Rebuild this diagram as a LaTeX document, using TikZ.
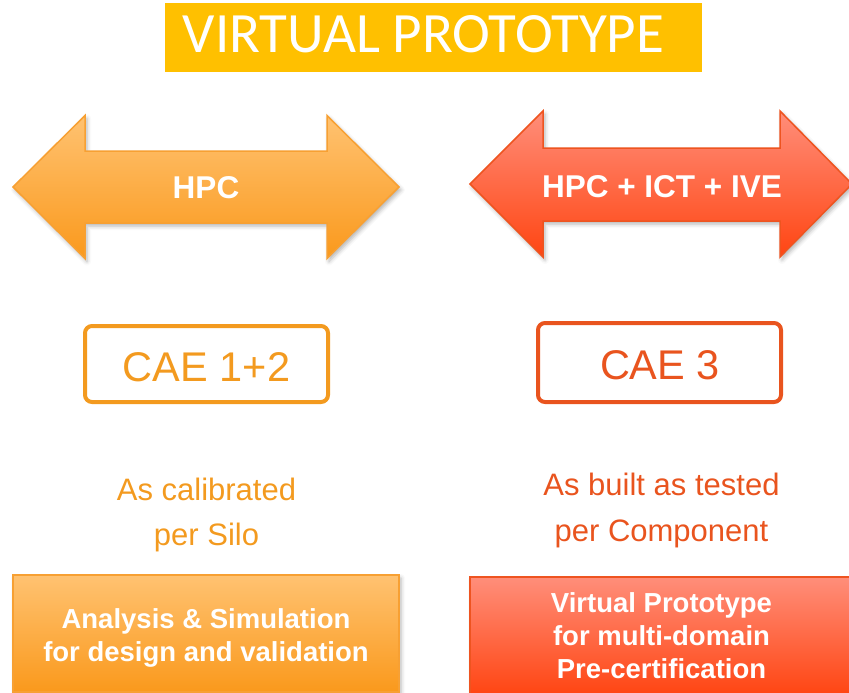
\documentclass[tikz,border=0pt]{standalone}
\usepackage{fontspec}
\setmainfont{Liberation Sans}
\newfontfamily\titlefont{Carlito}
\usetikzlibrary{shadows.blur}
\definecolor{gold}{HTML}{FFC000}
\definecolor{orA}{HTML}{FFC271}
\definecolor{orB}{HTML}{FA991C}
\definecolor{orLine}{HTML}{F7A033}
\definecolor{orText}{HTML}{F39A1F}
\definecolor{rdA}{HTML}{FF8E7A}
\definecolor{rdB}{HTML}{FF4512}
\definecolor{rdLine}{HTML}{EE5420}
\definecolor{rdText}{HTML}{E9541E}
\begin{document}
\begin{tikzpicture}[x=1pt,y=-1pt,
  softshadow/.style={blur shadow={shadow xshift=2pt,shadow yshift=-3pt,shadow blur radius=4pt,shadow opacity=30}},
  orshape/.style={top color=orA,bottom color=orB,draw=orLine,line width=1.5pt,line join=miter,softshadow},
  rdshape/.style={top color=rdA,bottom color=rdB,draw=rdLine,line width=1.5pt,line join=miter,softshadow},
  whitebold/.style={text=white,font=\bfseries\fontsize{31.5}{38}\selectfont,inner sep=0pt},
  caebox/.style={draw,line width=4pt,rounded corners=7pt,fill=white,inner sep=0pt,
     font=\fontsize{41.5}{50}\selectfont},
  midtext/.style={align=center,inner sep=0pt,font=\fontsize{31}{45.5}\selectfont},
  boxtext/.style={align=center,inner sep=0pt,text=white,font=\bfseries\fontsize{27.5}{33}\selectfont}]
\useasboundingbox (0,0) rectangle (849,693);

% title
\node[fill=gold,minimum width=537pt,minimum height=69pt,inner sep=0pt] (titlebox) at (433.5,37.5) {};
\node[text=white,inner sep=0pt,font=\titlefont\fontsize{57}{60}\selectfont] (title) at (423.5,34.5) {VIRTUAL PROTOTYPE};

% left double arrow
\path[orshape] (13,187) -- (85,115.5) -- (85,151) -- (327,151) -- (327,115.5) -- (399,187)
  -- (327,258.5) -- (327,223) -- (85,223) -- (85,258.5) -- cycle;
\node[whitebold] (hpc) at (206,188) {HPC};

% right double arrow
\path[rdshape] (470,184) -- (543,111) -- (543,148) -- (780,148) -- (780,111) -- (852,184)
  -- (780,257) -- (780,221) -- (543,221) -- (543,257) -- cycle;
\node[whitebold] (hpcict) at (662,186.5) {HPC + ICT + IVE};

% CAE boxes
\node[caebox,draw=orText,text=orText,minimum width=243pt,minimum height=76pt] (cae12frame) at (206.5,364) {};
\node[text=orText,inner sep=0pt,font=\fontsize{41.5}{50}\selectfont] (cae12) at (206.5,367) {CAE 1+2};
\node[caebox,draw=rdText,text=rdText,minimum width=243pt,minimum height=79pt] (cae3frame) at (659.5,362.5) {};
\node[text=rdText,inner sep=0pt,font=\fontsize{41.5}{50}\selectfont] (cae3) at (660,365) {CAE 3};

% middle texts
\node[midtext,text=orText] (calib) at (206.5,515) {As calibrated\\per Silo};
\node[midtext,text=rdText] (built) at (661.5,510.5) {As built as tested\\per Component};

% bottom boxes
\path[orshape] (13,575) rectangle (399,692);
\node[boxtext] (analysis) at (206,637.5) {Analysis \& Simulation\\for design and validation};
\path[rdshape] (470,577) rectangle (852,695);
\node[boxtext] (vp) at (661.5,635.5) {Virtual Prototype\\for multi-domain\\Pre-certification};
\end{tikzpicture}
\end{document}
